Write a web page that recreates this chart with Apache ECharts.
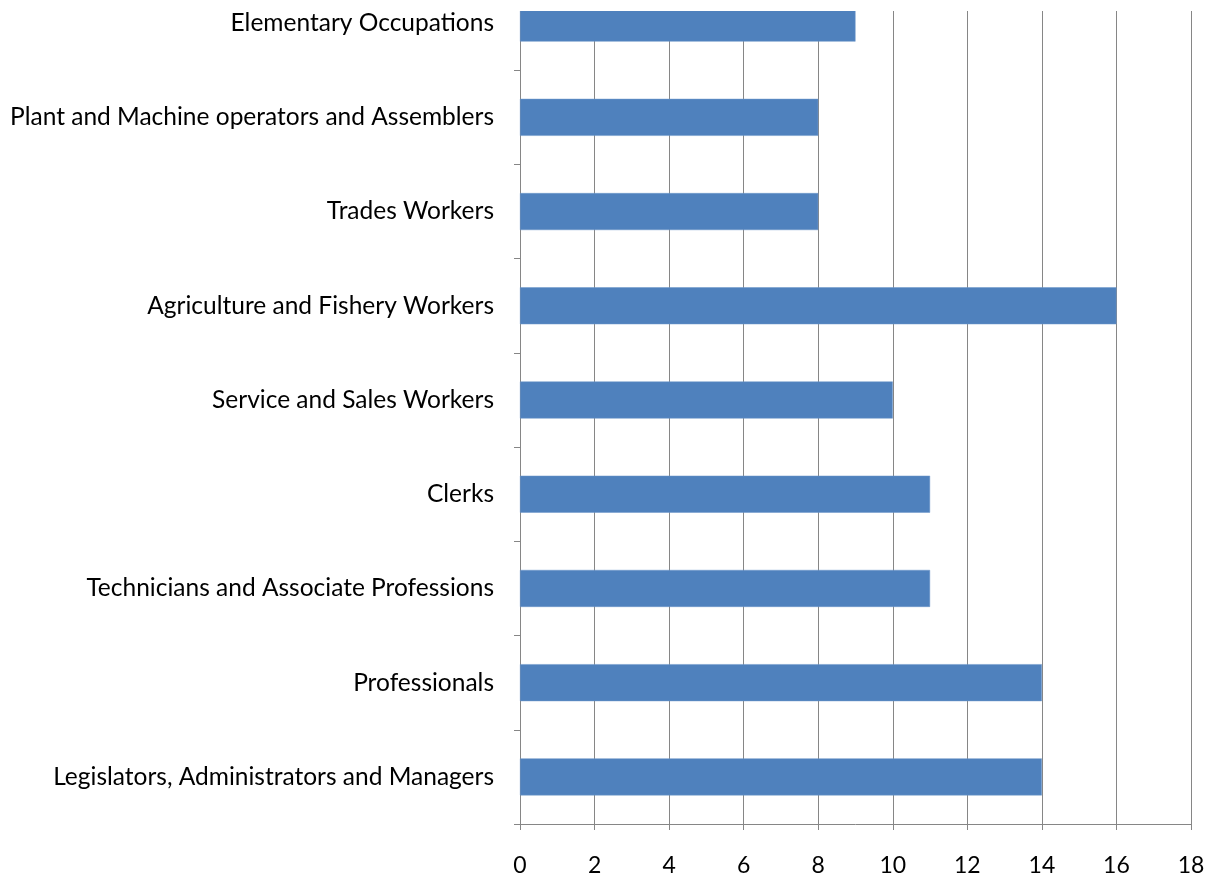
<!DOCTYPE html>
<html>
<head>
<meta charset="utf-8">
<script src="https://cdn.jsdelivr.net/npm/echarts@6/dist/echarts.min.js"></script>
<style>
html,body{margin:0;padding:0;background:#fff;overflow:hidden;}
/* the reference is cropped at the top, so the chart box starts above the page */
#main{width:1216px;height:914px;position:absolute;left:0;top:-35px;}
</style>
</head>
<body>
<div id="main"></div>
<script>
// categories, bottom to top as drawn
var categories = [
	"Legislators, Administrators and Managers",
	"Professionals",
	"Technicians and Associate Professions",
	"Clerks",
	"Service and Sales Workers",
	"Agriculture and Fishery Workers",
	"Trades Workers",
	"Plant and Machine operators and Assemblers",
	"Elementary Occupations"
];
var values = [14, 14, 11, 11, 10, 16, 8, 8, 9];
var xTicks = [0, 18, 2]; // min, max, interval

var myChart = echarts.init(document.getElementById('main'));
var option = {
	animation: false,
	grid: {left: 520, right: 25, top: 11, bottom: 55},
	xAxis: {
		type: 'value',
		min: xTicks[0], max: xTicks[1], interval: xTicks[2],
		axisLine: {show: true, lineStyle: {color: '#868686'}},
		axisTick: {show: true, length: 6, lineStyle: {color: '#868686'}},
		axisLabel: {color: '#000', fontSize: 23, fontFamily: 'Lato', margin: 30},
		splitLine: {show: true, lineStyle: {color: '#868686', width: 1}}
	},
	yAxis: {
		type: 'category',
		data: categories,
		axisLine: {show: true, lineStyle: {color: '#868686'}},
		axisTick: {show: true, length: 6, lineStyle: {color: '#868686'}},
		axisLabel: {color: '#000', fontSize: 24.5, fontFamily: 'Lato', margin: 26}
	},
	series: [{
		type: 'bar',
		data: values,
		barWidth: 37,
		itemStyle: {color: '#4F81BD', borderColor: '#6d97c9', borderWidth: 0.5}
	}],
	graphic: [{
		// white strip where the reference image was cut off
		type: 'rect', left: 0, top: 0, z: 100,
		shape: {width: 1216, height: 46},
		style: {fill: '#fff'}
	}]
};
myChart.setOption(option);
</script>
</body>
</html>
